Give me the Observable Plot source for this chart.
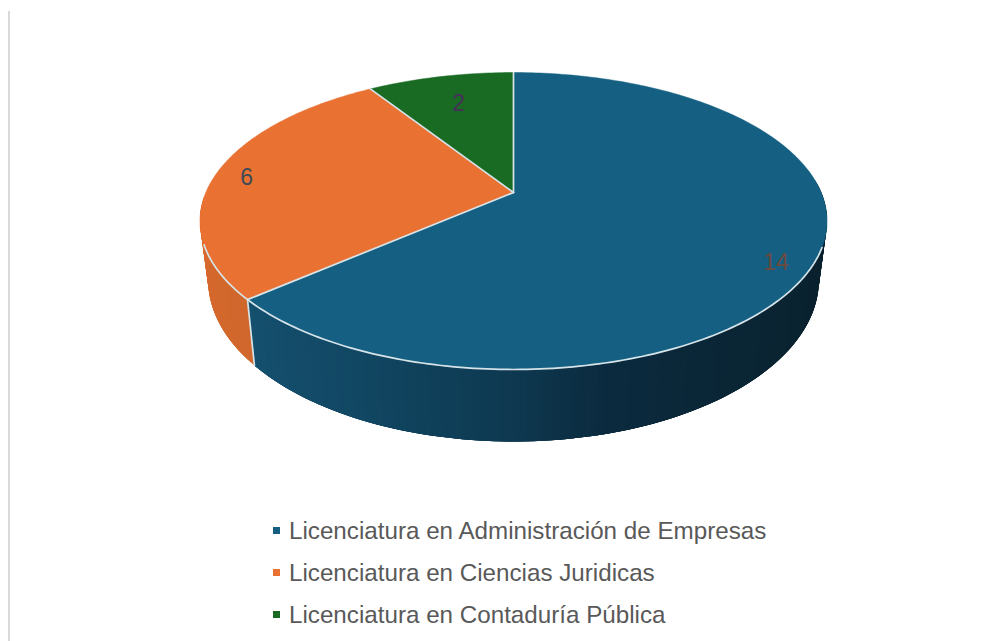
<!DOCTYPE html>
<html lang="es">
<head>
<meta charset="utf-8">
<script src="https://cdn.jsdelivr.net/npm/d3@7"></script>
<script src="https://cdn.jsdelivr.net/npm/@observablehq/plot@0.6"></script>
<style>
  html, body { margin: 0; padding: 0; background: #fff; }
  #chart { position: relative; width: 1004px; height: 641px; overflow: hidden; background: #fff; }
  #frame { position: absolute; left: 8px; top: 11px; width: 2px; height: 630px; background: #d9d9d9; }
  #legend { position: absolute; left: 273px; top: 510px; font-family: "Liberation Sans", Arial, sans-serif; font-size: 24.2px; color: #595959; }
  #legend .row { position: absolute; left: 0; white-space: nowrap; height: 42px; line-height: 42px; }
  #legend .sw { position: absolute; left: 0; top: 17px; width: 7px; height: 7px; }
  #legend .tx { position: absolute; left: 16px; top: 0; }
</style>
</head>
<body>
<div id="chart"><div id="frame"></div><div id="plot"></div><div id="legend"></div></div>
<script>
const categories = [
  "Licenciatura en Administración de Empresas",
  "Licenciatura en Ciencias Juridicas",
  "Licenciatura en Contaduría Pública"
];
const values = [14, 6, 2];
const colors = ["#156082", "#e97132", "#196b24"];
const labelColors = ["#6c4a3f", "#3f4a55", "#46305a"];
// Where each data label sits on the disk: clockwise angle from the far edge, fraction of radius
const labelAngles = [120, 277, 344];
const labelRadii = [0.90, 0.892, 0.735];

// Perspective of the 3D pie
const W = 1004, H = 505;
const apexX = 513, apexY = 192, A = 307.7, B = 143, P = 0.192;
const BOTTOM_SCALE = 0.974, BOTTOM_B = 155.6 / 143, BOTTOM_DY = (248.4 - 192) / 143;
const RIM = "#d6e4ea";

function upper(phiDeg, r = 1) {
  const t = phiDeg * Math.PI / 180;
  const u = r * Math.sin(t), v = -r * Math.cos(t), w = 1 - P * v;
  return {x: u / w, y: v / w};
}
function lower(phiDeg) {
  const t = phiDeg * Math.PI / 180;
  const u = Math.sin(t), v = -Math.cos(t), w = 1 - P * v;
  return {x: BOTTOM_SCALE * u / w, y: BOTTOM_DY + BOTTOM_B * v / w};
}

const arcs = d3.pie().sort(null).value(d => d).startAngle(0).endAngle(2 * Math.PI)(values)
  .map(a => ({start: a.startAngle * 180 / Math.PI, end: a.endAngle * 180 / Math.PI}));

// Top surface
const slicePts = arcs.flatMap((a, i) => {
  const pts = [{...upper(0, 0), id: i, color: colors[i]}];
  for (let p = a.start; p < a.end; p += 1) pts.push({...upper(p), id: i, color: colors[i]});
  pts.push({...upper(a.end), id: i, color: colors[i]});
  return pts;
});

// Side wall shading: overlapping strips, each painted over the previous one
const blueShade = d3.scaleLinear()
  .domain([229, 205, 182, 165, 140, 115])
  .range(["#15506f", "#114763", "#0e3a52", "#0b2a3e", "#0a2534", "#0a222f"]);
const orangeShade = d3.scaleLinear().domain([229, 262]).range(["#d0672c", "#d8692d"]);
const wallPts = [];
function addWall(from, to, shade, tag) {
  for (let p = from; p < to; p += 1) {
    const q = Math.min(p + 4, to), id = tag + p, color = shade(p + 0.5);
    const mid = (p + q) / 2;
    [upper(p), upper(mid), upper(q), lower(q), lower(mid), lower(p)].forEach(pt => wallPts.push({...pt, id, color}));
  }
}
addWall(85, arcs[0].end, blueShade, "b");
addWall(arcs[0].end, 268, orangeShade, "o");

// Light edges
const edgePts = [];
arcs.forEach((a, i) => {
  edgePts.push({...upper(0, 0), id: "r" + i}, {...upper(a.start), id: "r" + i});
});
for (let p = 111; p <= 250; p += 1) edgePts.push({...upper(p), id: "rim"});
edgePts.push({...upper(arcs[0].end), id: "wall"}, {...lower(arcs[0].end), id: "wall"});

const labels = values.map((v, i) => ({...upper(labelAngles[i], labelRadii[i]), text: String(v), color: labelColors[i]}));

const chart = Plot.plot({
  width: W, height: H,
  marginTop: 0, marginRight: 0, marginBottom: 0, marginLeft: 0,
  x: {axis: null, domain: [-apexX / A, (W - apexX) / A], range: [0, W]},
  y: {axis: null, domain: [-apexY / B, (H - apexY) / B], range: [0, H]},
  color: {type: "identity"},
  style: {background: "transparent"},
  marks: [
    Plot.line(wallPts, {x: "x", y: "y", z: "id", fill: "color", stroke: "none", curve: "linear-closed"}),
    Plot.line(slicePts, {x: "x", y: "y", z: "id", fill: "color", stroke: "color", strokeWidth: 0.5, curve: "linear-closed"}),
    Plot.line(edgePts, {x: "x", y: "y", z: "id", stroke: RIM, strokeWidth: 1.7}),
    Plot.text(labels, {x: "x", y: "y", text: "text", fill: "color", fontSize: 23, fontFamily: "Liberation Sans, Arial, sans-serif"})
  ]
});
document.getElementById("plot").appendChild(chart);

const legend = d3.select("#legend");
const rows = legend.selectAll(".row").data(categories).join("div")
  .attr("class", "row").style("top", (d, i) => `${i * 42}px`);
rows.append("div").attr("class", "sw").style("background", (d, i) => colors[i]);
rows.append("div").attr("class", "tx").text(d => d);
</script>
</body>
</html>
